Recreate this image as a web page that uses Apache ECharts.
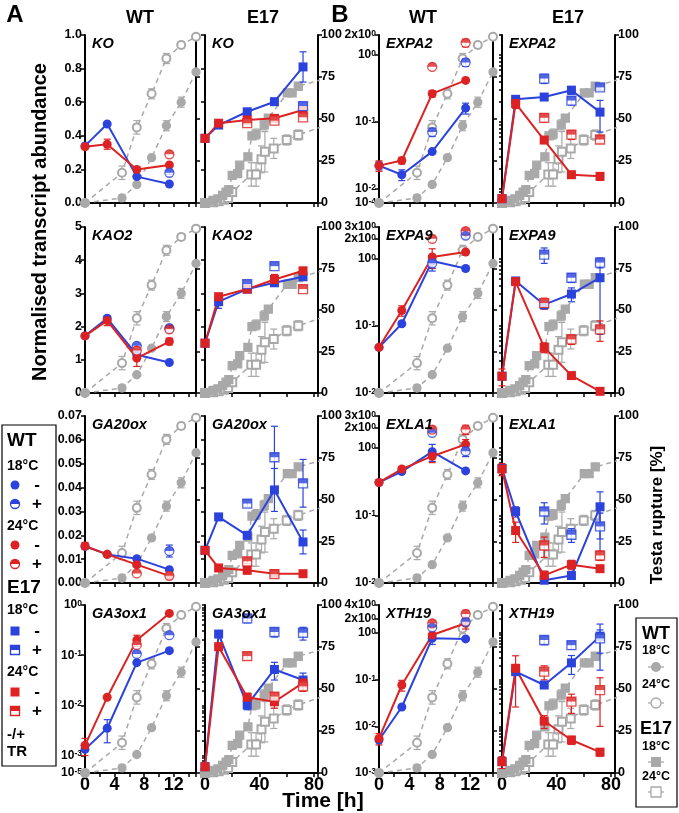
<!DOCTYPE html>
<html><head><meta charset="utf-8">
<script src="https://cdn.jsdelivr.net/npm/echarts@6/dist/echarts.min.js"></script>
<style>html,body{margin:0;padding:0;background:#fff}#c{width:679px;height:813px}</style>
</head><body><div id="c"></div>
<script>
// ---------------- sampling times ----------------
const wtTime = [0, 3, 7, 11.4];
const wtPlusTime = [7, 11.4];
const e17Time = [0, 10, 31, 51, 72];
const e17PlusTime = [31, 51, 72];

// ---------------- testa rupture (%) ----------------
const trWtTime = [0, 5, 7, 9, 11, 13, 15];
const trWt18 = [0, 3, 11, 27, 46, 60, 78];
const trWt18Err = [0, 2, 1, 1, 3, 3, 1];
const trWt24 = [0, 18, 45, 65, 86, 94, 99];
const trWt24Err = [0, 4, 4, 3, 3, 2, 1];
const trE17Time18 = [0, 6, 9.5, 13, 15.5, 17.5, 20, 24, 25.5, 31.5, 34.5, 37.5, 43.5, 46.5, 60.5, 64, 68.5, 88];
const trE17_18 = [0, 1.5, 2.5, 4.5, 6.5, 8, 16.5, 17.5, 22.5, 27.5, 40, 41, 46.5, 50.5, 65.5, 65.5, 69.5, 74];
const trE17_18Err = [0, 0, 0, 0, 0, 1, 1, 1, 1, 2, 2, 3, 3, 2, 0, 0, 2, 0];
const trE17Time24 = [0, 6, 10, 14, 17, 20, 34, 37.5, 41.5, 44, 50.5, 60, 68.5, 88];
const trE17_24 = [0, 0.5, 1, 2, 3, 6.5, 17, 17, 26, 30.5, 32.5, 37.5, 40.5, 46];
const trE17_24Err = [0, 0, 0, 1, 1, 2, 7, 7, 8, 12, 6, 3, 3, 0];

// ---------------- axis ranges / tick labels ----------------
const koRange = [0, 1, 0.2];
const kao2Range = [0, 5, 1];
const ga20oxRange = [0, 0.07, 0.01];
const ga3ox1Range = [4.5e-4, 1];
const ga3ox1LabelVals = [4.5e-4, 1e-3, 1e-2, 1e-1, 1];
const ga3ox1LabelText = ['10^-5', '10^-3', '10^-2', '10^-1', '10^0'];
const expa2Range = [0.0062, 2];
const expa2LabelVals = [0.0062, 0.01, 0.1, 1, 2];
const expa2LabelText = ['10^-4', '10^-2', '10^-1', '10^0', '2x10^0'];
const expa9Range = [0.01, 3];
const expa9LabelVals = [0.01, 0.1, 1, 2, 3];
const expa9LabelText = ['10^-2', '10^-1', '10^0', '2x10^0', '3x10^0'];
const exla1Range = [0.01, 3];
const exla1LabelVals = [0.01, 0.1, 1, 2, 3];
const exla1LabelText = ['10^-2', '10^-1', '10^0', '2x10^0', '3x10^0'];
const xth19Range = [0.001, 4];
const xth19LabelVals = [0.001, 0.01, 0.1, 1, 2, 4];
const xth19LabelText = ['10^-3', '10^-2', '10^-1', '10^0', '2x10^0', '4x10^0'];
const trTicks = [0, 100, 25];
const wtTimeLabels = [0, 4, 8, 12];
const e17TimeLabels = [0, 40, 80];

// ---------------- KO ----------------
const ko_wt18 = [0.34, 0.47, 0.157, 0.113];   const ko_wt18_e = [0, 0, 0.01, 0];
const ko_wt18p = [null, 0.18];                const ko_wt18p_e = [0, 0.01];
const ko_wt24 = [0.335, 0.35, 0.20, 0.226];   const ko_wt24_e = [0.01, 0.03, 0.015, 0];
const ko_wt24p = [null, 0.29];                const ko_wt24p_e = [0, 0];
const ko_e18 = [0.385, 0.464, 0.543, 0.603, 0.81]; const ko_e18_e = [0, 0.02, 0.015, 0.02, 0.09];
const ko_e18p = [null, null, 0.577];          const ko_e18p_e = [0, 0, 0.02];
const ko_e24 = [0.385, 0.475, 0.494, 0.504, 0.554]; const ko_e24_e = [0, 0.015, 0.01, 0.02, 0.015];
const ko_e24p = [0.475, 0.49, 0.51];          const ko_e24p_e = [0, 0, 0];
// ---------------- KAO2 ----------------
const kao2_wt18 = [1.72, 2.25, 1.15, 0.92];   const kao2_wt18_e = [0, 0.05, 0, 0];
const kao2_wt18p = [1.42, 1.95];              const kao2_wt18p_e = [0, 0];
const kao2_wt24 = [1.72, 2.18, 1.05, 1.55];   const kao2_wt24_e = [0.02, 0.15, 0.25, 0.1];
const kao2_wt24p = [1.28, 1.92];              const kao2_wt24p_e = [0, 0];
const kao2_e18 = [1.5, 2.75, 3.13, 3.32, 3.5]; const kao2_e18_e = [0, 0.2, 0.05, 0.1, 0.1];
const kao2_e18p = [3.28, 3.82, null];         const kao2_e18p_e = [0, 0, 0];
const kao2_e24 = [1.5, 2.9, 3.13, 3.42, 3.68]; const kao2_e24_e = [0, 0.1, 0.05, 0.15, 0.1];
const kao2_e24p = [null, null, 3.13];         const kao2_e24p_e = [0, 0, 0];
// ---------------- GA20ox ----------------
const ga20ox_wt18 = [0.0154, 0.012, 0.0102, 0.0056]; const ga20ox_wt18_e = [0, 0, 0, 0];
const ga20ox_wt18p = [null, 0.0134];          const ga20ox_wt18p_e = [0, 0.0025];
const ga20ox_wt24 = [0.0155, 0.012, 0.0077, 0.003]; const ga20ox_wt24_e = [0.0015, 0, 0, 0];
const ga20ox_wt24p = [0.004, 0.003];          const ga20ox_wt24p_e = [0, 0];
const ga20ox_e18 = [0.0137, 0.0277, 0.02, 0.039, 0.0172]; const ga20ox_e18_e = [0, 0, 0.0015, 0.009, 0.005];
const ga20ox_e18p = [0.0333, 0.0527, 0.0418]; const ga20ox_e18p_e = [0.0015, 0.013, 0.01];
const ga20ox_e24 = [0.0137, 0.0063, 0.0053, 0.0039, 0.0039]; const ga20ox_e24_e = [0, 0, 0, 0, 0];
const ga20ox_e24p = [0.0091, 0.0037, null];   const ga20ox_e24p_e = [0.001, 0, 0];
// ---------------- GA3ox1 ----------------
const ga3ox1_wt18 = [0.00133, 0.0035, 0.071, 0.123]; const ga3ox1_wt18_e = [0, 0.0017, 0, 0];
const ga3ox1_wt18p = [0.106, 0.25];           const ga3ox1_wt18p_e = [0, 0];
const ga3ox1_wt24 = [0.0016, 0.0145, 0.2, 0.68]; const ga3ox1_wt24_e = [0.0006, 0, 0.05, 0.05];
const ga3ox1_wt24p = [0.16, null];            const ga3ox1_wt24p_e = [0, 0];
const ga3ox1_e18 = [0.0006, 0.264, 0.0102, 0.052, 0.032]; const ga3ox1_e18_e = [0, 0.03, 0.002, 0.02, 0.012];
const ga3ox1_e18p = [0.54, 0.29, 0.28];       const ga3ox1_e18p_e = [0.1, 0.06, 0.08];
const ga3ox1_e24 = [0.0006, 0.148, 0.0145, 0.0118, 0.028]; const ga3ox1_e24_e = [0, 0, 0.003, 0.003, 0.008];
const ga3ox1_e24p = [0.096, 0.015, 0.024];    const ga3ox1_e24p_e = [0.015, 0.003, 0.005];
// ---------------- EXPA2 ----------------
const expa2_wt18 = [0.0224, 0.0164, 0.0363, 0.162]; const expa2_wt18_e = [0.003, 0.003, 0, 0.03];
const expa2_wt18p = [0.071, 0.78];            const expa2_wt18p_e = [0.01, 0.1];
const expa2_wt24 = [0.0224, 0.0267, 0.266, 0.42]; const expa2_wt24_e = [0.004, 0.003, 0.03, 0];
const expa2_wt24p = [0.67, 1.53];             const expa2_wt24p_e = [0, 0.2];
const expa2_e18 = [0.0072, 0.219, 0.237, 0.3, 0.141]; const expa2_e18_e = [0, 0.03, 0.02, 0.04, 0.07];
const expa2_e18p = [0.447, 0.21, 0.33];       const expa2_e18p_e = [0.07, 0.03, 0.03];
const expa2_e24 = [0.0072, 0.19, 0.054, 0.0164, 0.0155]; const expa2_e24_e = [0.0008, 0.03, 0, 0, 0.002];
const expa2_e24p = [0.116, 0.065, 0.055];     const expa2_e24p_e = [0.015, 0.01, 0.006];
// ---------------- EXPA9 ----------------
const expa9_wt18 = [0.048, 0.108, 0.93, 0.72]; const expa9_wt18_e = [0, 0, 0.2, 0.06];
const expa9_wt18p = [0.86, 2.24];             const expa9_wt18p_e = [0.2, 0.2];
const expa9_wt24 = [0.048, 0.17, 1.07, 1.27]; const expa9_wt24_e = [0.003, 0.03, 0.35, 0];
const expa9_wt24p = [2.0, 2.6];               const expa9_wt24p_e = [0, 0.2];
const expa9_e18 = [0.0178, 0.47, 0.208, 0.3, 0.525]; const expa9_e18_e = [0, 0.03, 0.03, 0.07, 0.45];
const expa9_e18p = [1.16, 0.525, 0.885];      const expa9_e18p_e = [0.3, 0.08, 0.15];
const expa9_e24 = [0.0178, 0.46, 0.048, 0.0182, 0.0106]; const expa9_e24_e = [0.005, 0.05, 0.008, 0, 0];
const expa9_e24p = [0.22, 0.063, 0.089];      const expa9_e24p_e = [0.04, 0.01, 0.03];
// ---------------- EXLA1 ----------------
const exla1_wt18 = [0.31, 0.45, 0.887, 0.46]; const exla1_wt18_e = [0, 0, 0.25, 0];
const exla1_wt18p = [1.69, 0.9];              const exla1_wt18p_e = [0, 0.15];
const exla1_wt24 = [0.31, 0.49, 0.76, 1.14];  const exla1_wt24_e = [0, 0, 0.15, 0.2];
const exla1_wt24p = [1.89, 1.89];             const exla1_wt24p_e = [0, 0.3];
const exla1_e18 = [0.5, 0.115, 0.011, 0.0129, 0.135]; const exla1_e18_e = [0, 0.02, 0.0015, 0.001, 0.09];
const exla1_e18p = [0.115, 0.052, 0.069];     const exla1_e18p_e = [0.04, 0.012, 0.04];
const exla1_e24 = [0.49, 0.06, 0.013, 0.0187, 0.0163]; const exla1_e24_e = [0.1, 0.02, 0.002, 0.003, 0];
const exla1_e24p = [0.036, null, 0.0256];     const exla1_e24p_e = [0.012, 0, 0.004];
// ---------------- XTH19 ----------------
const xth19_wt18 = [0.0051, 0.026, 0.77, 0.75]; const xth19_wt18_e = [0, 0, 0.2, 0];
const xth19_wt18p = [1.33, 1.75];             const xth19_wt18p_e = [0, 0];
const xth19_wt24 = [0.0055, 0.077, 0.91, 1.62]; const xth19_wt24_e = [0.0015, 0.02, 0, 0.4];
const xth19_wt24p = [1.62, 2.57];             const xth19_wt24p_e = [0, 0.5];
const xth19_e18 = [0.00175, 0.149, 0.077, 0.23, 0.86]; const xth19_e18_e = [0, 0, 0.01, 0.1, 0.7];
const xth19_e18p = [0.71, 0.55, 0.77];        const xth19_e18p_e = [0.15, 0.1, 0.4];
const xth19_e24 = [0.00175, 0.176, 0.013, 0.0051, 0.0028]; const xth19_e24_e = [0.0005, 0.15, 0.004, 0.001, 0.0005];
const xth19_e24p = [0.149, 0.034, 0.06];      const xth19_e24p_e = [0.05, 0.015, 0.05];

// ================= build =================
const FONT = '"Liberation Sans", Arial, Helvetica, sans-serif';
const BLUE = '#2b43dc', RED = '#dc2222', GREY = '#a9a9a9';
const colX = [[85, 196], [205, 318], [379, 493], [502, 615]];
const rowY = [[35, 203], [227, 393], [416, 583], [605, 773]];

function lin(r, fmt) { return {log: false, min: r[0], max: r[1], interval: r[2], fmt}; }
function lg(r, vals, txt) { return {log: true, min: r[0], max: r[1], vals, txt}; }
function pack(p) {
  const g = (k) => eval(p + '_' + k);
  return {wt18: g('wt18'), wt18e: g('wt18_e'), wt18p: g('wt18p'), wt18pe: g('wt18p_e'),
    wt24: g('wt24'), wt24e: g('wt24_e'), wt24p: g('wt24p'), wt24pe: g('wt24p_e'),
    e18: g('e18'), e18e: g('e18_e'), e18p: g('e18p'), e18pe: g('e18p_e'),
    e24: g('e24'), e24e: g('e24_e'), e24p: g('e24p'), e24pe: g('e24p_e')};
}
const genes = [
  {name: 'KO', row: 0, half: 0, ax: lin(koRange, v => v.toFixed(1)), d: pack('ko')},
  {name: 'KAO2', row: 1, half: 0, ax: lin(kao2Range, v => String(Math.round(v))), d: pack('kao2')},
  {name: 'GA20ox', row: 2, half: 0, ax: lin(ga20oxRange, v => v.toFixed(2)), d: pack('ga20ox')},
  {name: 'GA3ox1', row: 3, half: 0, ax: lg(ga3ox1Range, ga3ox1LabelVals, ga3ox1LabelText), d: pack('ga3ox1')},
  {name: 'EXPA2', row: 0, half: 1, ax: lg(expa2Range, expa2LabelVals, expa2LabelText), d: pack('expa2')},
  {name: 'EXPA9', row: 1, half: 1, ax: lg(expa9Range, expa9LabelVals, expa9LabelText), d: pack('expa9')},
  {name: 'EXLA1', row: 2, half: 1, ax: lg(exla1Range, exla1LabelVals, exla1LabelText), d: pack('exla1')},
  {name: 'XTH19', row: 3, half: 1, ax: lg(xth19Range, xth19LabelVals, xth19LabelText), d: pack('xth19')},
];

function rich(t) {
  const m = t.split('^');
  return '{b|' + m[0] + '}{s|' + m[1] + '}';
}
function zip(xs, ys) { return xs.map((x, i) => ys[i] == null ? null : [x, ys[i]]).filter(Boolean); }
function errPts(xs, ys, es, lo) {
  return xs.map((x, i) => (ys[i] == null || !es[i]) ? null :
    [x, Math.max(ys[i] - es[i], lo), ys[i] + es[i]]).filter(Boolean);
}
function inExtent(vals, min, max) {
  return vals.map(v => Math.min(Math.max(v, min * 1.000001), max * 0.999999));
}
function minorTicks(min, max) {
  const out = [];
  for (let e = -6; e <= 1; e++) for (let k = 1; k <= 9; k++) {
    const v = k * Math.pow(10, e);
    if (v >= min * 0.999 && v <= max * 1.001) out.push(v);
  }
  return inExtent(out, min, max);
}
const AXLINE = {show: true, onZero: false, lineStyle: {color: '#000', width: 2}};
const grids = [], xAxes = [], yAxes = [], series = [], graphics = [];

function errSeries(xi, yi, pts, color, z) {
  return {type: 'custom', xAxisIndex: xi, yAxisIndex: yi, z, silent: true, clip: false,
    encode: {x: 0, y: [1, 2]}, data: pts,
    renderItem(params, api) {
      const x = api.value(0), a = api.coord([x, api.value(1)]), b = api.coord([x, api.value(2)]);
      const w = 3.5, st = {stroke: color, lineWidth: 1.2};
      return {type: 'group', children: [
        {type: 'line', shape: {x1: a[0], y1: a[1], x2: b[0], y2: b[1]}, style: st},
        {type: 'line', shape: {x1: a[0] - w, y1: a[1], x2: a[0] + w, y2: a[1]}, style: st},
        {type: 'line', shape: {x1: b[0] - w, y1: b[1], x2: b[0] + w, y2: b[1]}, style: st}]};
    }};
}
function trLine(xi, yi, data, symbol) {
  return {type: 'line', xAxisIndex: xi, yAxisIndex: yi, data, symbol, symbolSize: 8, z: 2,
    silent: true, clip: true,
    itemStyle: {color: GREY, borderColor: GREY, borderWidth: 1.3},
    lineStyle: {color: GREY, width: 1.5, type: [5, 4]}};
}
function mainLine(xi, yi, data, color, sq) {
  return {type: 'line', xAxisIndex: xi, yAxisIndex: yi, data, symbol: sq ? 'rect' : 'circle',
    symbolSize: 9, z: 6, silent: true, clip: false,
    itemStyle: {color}, lineStyle: {color, width: 2}};
}
function halfMarks(xi, yi, data, color, sq) {
  return [
    {type: 'scatter', xAxisIndex: xi, yAxisIndex: yi, data, symbol: sq ? 'rect' : 'circle',
      symbolSize: 9, z: 7, silent: true, itemStyle: {color: '#fff', borderColor: color, borderWidth: 1.3}},
    {type: 'scatter', xAxisIndex: xi, yAxisIndex: yi, data,
      symbol: sq ? 'rect' : 'path://M0,10A10,10,0,0,1,20,10Z',
      symbolSize: [9, 4.5], symbolOffset: [0, '-50%'], z: 8, silent: true, itemStyle: {color}}];
}

genes.forEach(g => {
  for (let side = 0; side < 2; side++) {
    const col = g.half * 2 + side, idx = grids.length;
    const [x0, x1] = colX[col], [y0, y1] = rowY[g.row];
    grids.push({left: x0, top: y0, width: x1 - x0, height: y1 - y0, containLabel: false});
    const labs = side ? e17TimeLabels : wtTimeLabels;
    xAxes.push({gridIndex: idx, type: 'value', min: 0, max: side ? 83 : 15, interval: side ? 20 : 2,
      axisLine: AXLINE, splitLine: {show: false},
      axisTick: {show: true, length: 4, lineStyle: {color: '#000', width: 1.5}},
      axisLabel: {show: g.row === 3, margin: 3, color: '#000', fontFamily: FONT, fontWeight: 'bold', fontSize: 18,
        formatter: v => labs.indexOf(v) >= 0 ? String(v) : ''}});
    const ax = g.ax;
    const ly = {gridIndex: idx, position: 'left', min: ax.min, max: ax.max, axisLine: AXLINE,
      splitLine: {show: false},
      axisTick: {show: true, length: 4, lineStyle: {color: '#000', width: 1.5}},
      axisLabel: {show: side === 0, margin: 3, color: '#000', fontFamily: FONT, fontWeight: 'bold', fontSize: 12.5,
        showMinLabel: true, showMaxLabel: true, hideOverlap: false}};
    if (ax.log) {
      ly.type = 'log'; ly.logBase = 10;
      ly.axisLabel.customValues = inExtent(ax.vals, ax.min, ax.max);
      ly.axisLabel.formatter = v => {
        let best = 0, bd = 1e9;
        ax.vals.forEach((t, i) => { const d = Math.abs(Math.log10(t) - Math.log10(v)); if (d < bd) { bd = d; best = i; } });
        return rich(ax.txt[best]);
      };
      ly.axisLabel.rich = {
        b: {fontFamily: FONT, fontWeight: 'bold', fontSize: 12, color: '#000', lineHeight: 12, verticalAlign: 'bottom'},
        s: {fontFamily: FONT, fontWeight: 'bold', fontSize: 8.5, color: '#000', lineHeight: 12, verticalAlign: 'top'}};
      ly.axisTick.customValues = side === 0 ? inExtent(ax.vals, ax.min, ax.max) : minorTicks(ax.min, ax.max);
      if (side === 1) ly.axisTick.length = 3;
    } else {
      ly.type = 'value'; ly.interval = ax.interval;
      ly.axisLabel.formatter = ax.fmt;
    }
    yAxes.push(ly);
    yAxes.push({gridIndex: idx, type: 'value', position: 'right', min: trTicks[0], max: trTicks[1], interval: trTicks[2],
      axisLine: AXLINE, splitLine: {show: false},
      axisTick: {show: true, length: 4, lineStyle: {color: '#000', width: 1.5}},
      axisLabel: {show: side === 1, margin: 3, color: '#000', fontFamily: FONT, fontWeight: 'bold', fontSize: 12.5}});
    const yl = yAxes.length - 2, yr = yAxes.length - 1, lo = ax.min, d = g.d;
    if (side === 0) {
      series.push(errSeries(idx, yr, errPts(trWtTime, trWt24, trWt24Err, 0), GREY, 1));
      series.push(errSeries(idx, yr, errPts(trWtTime, trWt18, trWt18Err, 0), GREY, 1));
      series.push(trLine(idx, yr, zip(trWtTime, trWt24), 'emptyCircle'));
      series.push(trLine(idx, yr, zip(trWtTime, trWt18), 'circle'));
      series.push(errSeries(idx, yl, errPts(wtTime, d.wt18, d.wt18e, lo), BLUE, 5));
      series.push(errSeries(idx, yl, errPts(wtTime, d.wt24, d.wt24e, lo), RED, 5));
      series.push(errSeries(idx, yl, errPts(wtPlusTime, d.wt18p, d.wt18pe, lo), BLUE, 5));
      series.push(errSeries(idx, yl, errPts(wtPlusTime, d.wt24p, d.wt24pe, lo), RED, 5));
      series.push(mainLine(idx, yl, zip(wtTime, d.wt18), BLUE, false));
      series.push(mainLine(idx, yl, zip(wtTime, d.wt24), RED, false));
      series.push(...halfMarks(idx, yl, zip(wtPlusTime, d.wt18p), BLUE, false));
      series.push(...halfMarks(idx, yl, zip(wtPlusTime, d.wt24p), RED, false));
    } else {
      series.push(errSeries(idx, yr, errPts(trE17Time24, trE17_24, trE17_24Err, 0), GREY, 1));
      series.push(errSeries(idx, yr, errPts(trE17Time18, trE17_18, trE17_18Err, 0), GREY, 1));
      series.push(trLine(idx, yr, zip(trE17Time24, trE17_24), 'emptyRect'));
      series.push(trLine(idx, yr, zip(trE17Time18, trE17_18), 'rect'));
      series.push(errSeries(idx, yl, errPts(e17Time, d.e18, d.e18e, lo), BLUE, 5));
      series.push(errSeries(idx, yl, errPts(e17Time, d.e24, d.e24e, lo), RED, 5));
      series.push(errSeries(idx, yl, errPts(e17PlusTime, d.e18p, d.e18pe, lo), BLUE, 5));
      series.push(errSeries(idx, yl, errPts(e17PlusTime, d.e24p, d.e24pe, lo), RED, 5));
      series.push(mainLine(idx, yl, zip(e17Time, d.e18), BLUE, true));
      series.push(mainLine(idx, yl, zip(e17Time, d.e24), RED, true));
      series.push(...halfMarks(idx, yl, zip(e17PlusTime, d.e18p), BLUE, true));
      series.push(...halfMarks(idx, yl, zip(e17PlusTime, d.e24p), RED, true));
    }
    graphics.push({type: 'text', x: x0 + 7, y: y0 + 1, z: 20,
      style: {text: g.name, font: 'italic bold 14.5px ' + FONT, fill: '#000', textAlign: 'left', textVerticalAlign: 'top'}});
  }
});

// ---------- titles ----------
function T(text, x, y, size, opts) {
  return Object.assign({type: 'text', x, y, z: 20,
    style: {text, font: 'bold ' + size + 'px ' + FONT, fill: '#000', textAlign: 'center', textVerticalAlign: 'middle'}}, opts || {});
}
graphics.push(T('A', 15, 15, 24), T('WT', 140, 18, 18), T('E17', 263, 18, 18),
  T('B', 340, 15, 24), T('WT', 423, 18, 18), T('E17', 568, 18, 18),
  T('Time [h]', 323, 801, 21),
  T('Normalised transcript abundance', 40, 222, 20, {rotation: Math.PI / 2}),
  T('Testa rupture [%]', 657, 515, 17, {rotation: Math.PI / 2}));

// ---------- left legend ----------
graphics.push({type: 'rect', shape: {x: 2, y: 425, width: 54, height: 341}, z: 19,
  style: {fill: 'none', stroke: '#000', lineWidth: 1.2}});
function lt(text, y, size) { return {type: 'text', x: 7, y, z: 20, style: {text, font: 'bold ' + size + 'px ' + FONT, fill: '#000', textAlign: 'left', textVerticalAlign: 'middle'}}; }
function sym(y, color, sq, half, sign) {
  const cx = 15, r = 4.5, arr = [];
  if (!half) {
    arr.push(sq ? {type: 'rect', shape: {x: cx - r, y: y - r, width: 9, height: 9}, z: 20, style: {fill: color}}
                : {type: 'circle', shape: {cx, cy: y, r}, z: 20, style: {fill: color}});
  } else {
    arr.push(sq ? {type: 'rect', shape: {x: cx - r, y: y - r, width: 9, height: 9}, z: 20, style: {fill: '#fff', stroke: color, lineWidth: 1.3}}
                : {type: 'circle', shape: {cx, cy: y, r}, z: 20, style: {fill: '#fff', stroke: color, lineWidth: 1.3}});
    arr.push(sq ? {type: 'rect', shape: {x: cx - r, y: y - r, width: 9, height: 4.5}, z: 21, style: {fill: color}}
                : {type: 'sector', shape: {cx, cy: y, r0: 0, r, startAngle: Math.PI, endAngle: 2 * Math.PI}, z: 21, style: {fill: color}});
  }
  arr.push({type: 'text', x: 37, y, z: 20, style: {text: sign, font: 'bold 17px ' + FONT, fill: '#000', textAlign: 'center', textVerticalAlign: 'middle'}});
  return arr;
}
graphics.push(lt('WT', 441, 19), lt('18°C', 466, 14),
  ...sym(485, BLUE, false, false, '-'), ...sym(504, BLUE, false, true, '+'),
  lt('24°C', 526, 14),
  ...sym(545, RED, false, false, '-'), ...sym(564, RED, false, true, '+'),
  lt('E17', 588, 19), lt('18°C', 610, 14),
  ...sym(631, BLUE, true, false, '-'), ...sym(650, BLUE, true, true, '+'),
  lt('24°C', 672, 14),
  ...sym(692, RED, true, false, '-'), ...sym(711, RED, true, true, '+'),
  lt('-/+', 735, 15), lt('TR', 752, 15));

// ---------- right legend ----------
graphics.push({type: 'rect', shape: {x: 636, y: 618, width: 41, height: 189}, z: 19,
  style: {fill: 'none', stroke: '#000', lineWidth: 1.2}});
function rt(text, y, size) { return {type: 'text', x: 656, y, z: 20, style: {text, font: 'bold ' + size + 'px ' + FONT, fill: '#000', textAlign: 'center', textVerticalAlign: 'middle'}}; }
function rsym(y, sq, open) {
  const cx = 656, r = 5;
  const st = open ? {fill: '#fff', stroke: GREY, lineWidth: 1.3} : {fill: GREY};
  return [
    {type: 'line', shape: {x1: cx - 8, y1: y, x2: cx + 8, y2: y}, z: 20, style: {stroke: GREY, lineWidth: 1.3}},
    sq ? {type: 'rect', shape: {x: cx - r, y: y - r, width: 10, height: 10}, z: 21, style: st}
       : {type: 'circle', shape: {cx, cy: y, r}, z: 21, style: st}];
}
graphics.push(rt('WT', 634, 18), rt('18°C', 651, 12.5), ...rsym(667, false, false),
  rt('24°C', 685, 12.5), ...rsym(703, false, true),
  rt('E17', 729, 18), rt('18°C', 747, 12.5), ...rsym(762, true, false),
  rt('24°C', 777, 12.5), ...rsym(792, true, true));

const chart = echarts.init(document.getElementById('c'), null, {renderer: 'canvas'});
chart.setOption({animation: false, backgroundColor: '#fff', grid: grids, xAxis: xAxes, yAxis: yAxes, series, graphic: graphics});
</script></body></html>
